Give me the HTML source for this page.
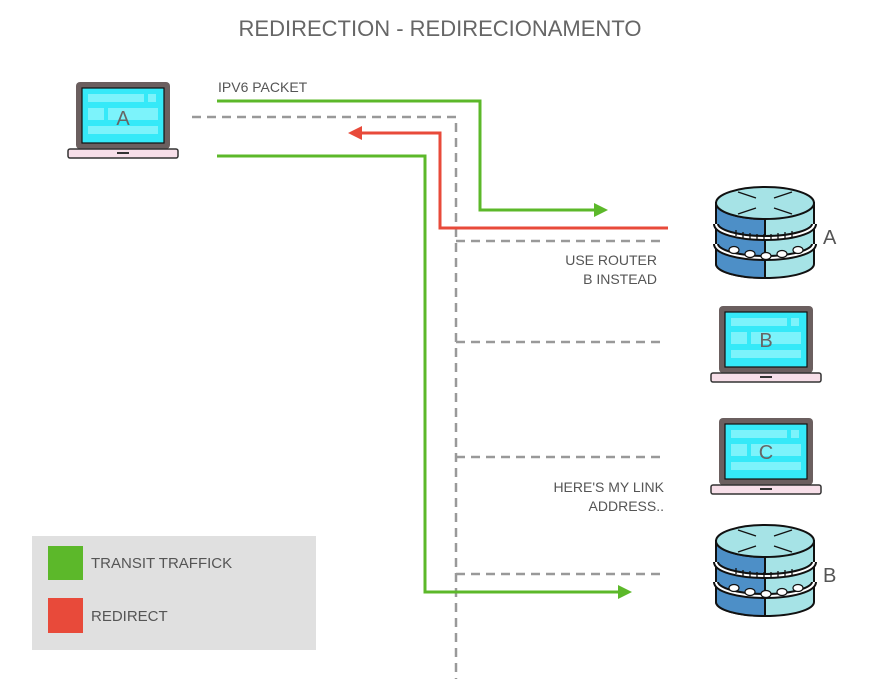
<!DOCTYPE html>
<html><head><meta charset="utf-8"><style>
html,body{margin:0;padding:0;background:#fff;}
svg{display:block;font-family:"Liberation Sans",sans-serif;}
</style></head><body>
<svg width="880" height="679" viewBox="0 0 880 679" xmlns="http://www.w3.org/2000/svg">
<defs>
<g id="lap">
 <rect x="0" y="0" width="94" height="67" rx="4" fill="#6b5f5f"/>
 <rect x="6" y="6" width="82" height="55" fill="#35e9f8" stroke="#111" stroke-width="1.2"/>
 <rect x="12" y="12" width="56" height="8" fill="#7cf3fb"/>
 <rect x="72" y="12" width="8" height="8" fill="#7cf3fb"/>
 <rect x="12" y="26" width="16" height="12" fill="#7cf3fb"/>
 <rect x="32" y="26" width="50" height="12" fill="#7cf3fb"/>
 <rect x="12" y="44" width="70" height="8" fill="#7cf3fb"/>
 <rect x="-8" y="67" width="110" height="9" rx="2" fill="#f7dfe9" stroke="#333" stroke-width="1.5"/>
 <rect x="41" y="70" width="12" height="2" fill="#333"/>
</g>
<g id="rtr" stroke="#111" stroke-width="2">
 <path d="M0,17 V78 A49,14 0 0 0 98,78 V17 Z" fill="#a6e3e6"/>
 <path d="M0,17 V78 A49,14 0 0 0 49,92 V33 A49,16 0 0 1 0,17 Z" fill="#4d8fc7"/>
 <ellipse cx="49" cy="17" rx="49" ry="16" fill="#a6e3e6"/>
 <g fill="none">
 <path d="M0,38 A49,14 0 0 0 98,38" stroke="#111" stroke-width="6"/>
 <path d="M0,38 A49,14 0 0 0 98,38" stroke="#fff" stroke-width="2"/>
 <path d="M0,58 A49,14 0 0 0 98,58" stroke="#111" stroke-width="6"/>
 <path d="M0,58 A49,14 0 0 0 98,58" stroke="#fff" stroke-width="2"/>
 </g>
 <g stroke-width="1.3"><path d="M40,12 L22,6 M40,22 L22,28 M58,12 L76,6 M58,22 L76,28"/></g>
 <g fill="#fff" stroke="#111" stroke-width="1.2">
  <ellipse cx="18" cy="64" rx="5" ry="3.5"/><ellipse cx="34" cy="68" rx="5" ry="3.5"/><ellipse cx="50" cy="70" rx="5" ry="3.5"/><ellipse cx="66" cy="68" rx="5" ry="3.5"/><ellipse cx="82" cy="64" rx="5" ry="3.5"/>
 </g>
 <g stroke-width="1.3"><path d="M20,44v6M27,46v6M34,47v6M41,48v6M48,48v6M55,48v6M62,47v6M69,46v6M76,45v6"/></g>
</g>
</defs>
<text x="440" y="36" text-anchor="middle" font-size="22" fill="#666">REDIRECTION - REDIRECIONAMENTO</text>
<g stroke="#999" stroke-width="2.5" stroke-dasharray="9 6" fill="none">
 <path d="M192,117 H456 V679"/>
 <path d="M456,241 H662"/><path d="M456,342 H662"/><path d="M456,457 H662"/><path d="M456,574 H662"/>
</g>
<g stroke="#5cb82a" stroke-width="3" fill="none">
 <path d="M217,101 H480 V210 H596"/>
 <path d="M217,156 H425 V592 H620"/>
</g>
<polygon points="594,203 608,210 594,217" fill="#5cb82a"/>
<polygon points="618,585 632,592 618,599" fill="#5cb82a"/>
<path d="M668,228 H440 V133 H360" stroke="#e84a3a" stroke-width="3" fill="none"/>
<polygon points="362,126 348,133 362,140" fill="#e84a3a"/>
<text x="218" y="92" font-size="14" fill="#555">IPV6 PACKET</text>
<text x="657" y="265" text-anchor="end" font-size="14" fill="#555">USE ROUTER</text>
<text x="657" y="284" text-anchor="end" font-size="14" fill="#555">B INSTEAD</text>
<text x="664" y="492" text-anchor="end" font-size="14" fill="#555">HERE'S MY LINK</text>
<text x="664" y="511" text-anchor="end" font-size="14" fill="#555">ADDRESS..</text>
<use href="#lap" x="76" y="82"/>
<text x="123" y="125" text-anchor="middle" font-size="20" fill="#666">A</text>
<use href="#lap" x="719" y="306"/>
<text x="766" y="347" text-anchor="middle" font-size="20" fill="#666">B</text>
<use href="#lap" x="719" y="418"/>
<text x="766" y="459" text-anchor="middle" font-size="20" fill="#666">C</text>
<use href="#rtr" x="716" y="186"/>
<use href="#rtr" x="716" y="524"/>
<text x="823" y="244" font-size="20" fill="#555">A</text>
<text x="823" y="582" font-size="20" fill="#555">B</text>
<rect x="32" y="536" width="284" height="114" fill="#e0e0e0"/>
<rect x="48" y="546" width="35" height="34" fill="#5cb82a"/>
<rect x="48" y="598" width="35" height="35" fill="#e84a3a"/>
<text x="91" y="568" font-size="15" fill="#555">TRANSIT TRAFFICK</text>
<text x="91" y="621" font-size="15" fill="#555">REDIRECT</text>
</svg>
</body></html>
